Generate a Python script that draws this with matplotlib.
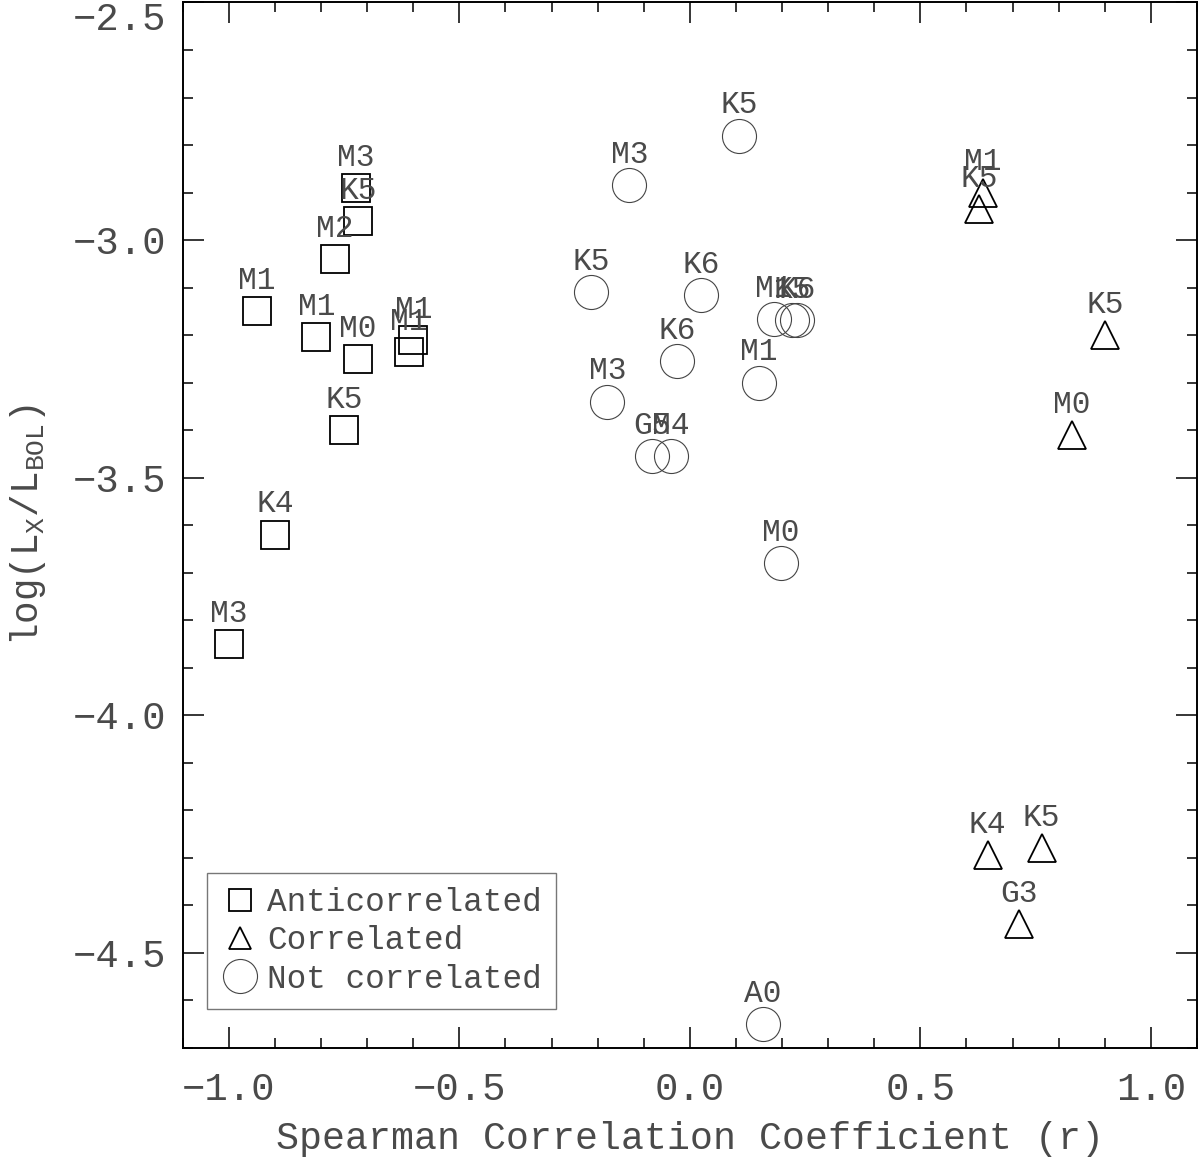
import matplotlib.pyplot as plt
from matplotlib.lines import Line2D
from matplotlib.ticker import MultipleLocator

plt.rcParams['font.family'] = ['Liberation Mono', 'DejaVu Sans']
plt.rcParams['mathtext.fontset'] = 'custom'
plt.rcParams['mathtext.rm'] = 'Liberation Mono'
plt.rcParams['mathtext.it'] = 'Liberation Mono'

txt = '#4a4a4a'

# anticorrelated stars (squares)
anti_r = [-1.00, -0.90, -0.94, -0.81, -0.77, -0.725, -0.72, -0.72, -0.75, -0.60, -0.61]
anti_lx = [-3.85, -3.62, -3.15, -3.205, -3.04, -2.89, -2.96, -3.25, -3.40, -3.21, -3.235]
anti_sp = ['M3', 'K4', 'M1', 'M1', 'M2', 'M3', 'K5', 'M0', 'K5', 'M1', 'M1']

# correlated stars (triangles)
corr_r = [0.636, 0.627, 0.90, 0.829, 0.646, 0.763, 0.714]
corr_lx = [-2.90, -2.935, -3.20, -3.41, -4.295, -4.28, -4.44]
corr_sp = ['M1', 'K5', 'K5', 'M0', 'K4', 'K5', 'G3']

# not correlated stars (circles)
nc_r = [0.107, -0.131, -0.214, 0.024, 0.183, 0.222, 0.232, -0.028, 0.150, -0.179, -0.082, -0.041, 0.198, 0.159]
nc_lx = [-2.78, -2.885, -3.11, -3.115, -3.166, -3.168, -3.168, -3.255, -3.30, -3.34, -3.455, -3.455, -3.68, -4.65]
nc_sp = ['K5', 'M3', 'K5', 'K6', 'M1', 'K5', 'K6', 'K6', 'M1', 'M3', 'G5', 'M4', 'M0', 'A0']

fig = plt.figure(figsize=(12, 11.7), dpi=100)
ax = fig.add_axes([0.1523, 0.1043, 0.8452, 0.8936])

ax.plot(anti_r, anti_lx, ls='none', marker='s', ms=20, mfc='none', mec='black', mew=1.3)
ax.plot(corr_r, corr_lx, ls='none', marker='^', ms=20, mfc='none', mec='black', mew=1.3)
ax.plot(nc_r, nc_lx, ls='none', marker='o', ms=24.5, mfc='none', mec='#444444', mew=0.8)

for xs, ys, names in [(anti_r, anti_lx, anti_sp), (corr_r, corr_lx, corr_sp), (nc_r, nc_lx, nc_sp)]:
    for x, y, s in zip(xs, ys, names):
        ax.annotate(s, (x, y), xytext=(0, 16), textcoords='offset points',
                    ha='center', va='baseline', fontsize=22.5, color=txt)

ax.set_xlim(-1.1, 1.1)
ax.set_ylim(-4.7, -2.5)
ax.xaxis.set_major_locator(MultipleLocator(0.5))
ax.xaxis.set_minor_locator(MultipleLocator(0.1))
ax.yaxis.set_major_locator(MultipleLocator(0.5))
ax.yaxis.set_minor_locator(MultipleLocator(0.1))
ax.tick_params(which='both', direction='in', top=True, right=True, width=1.1,
               labelsize=28, labelcolor=txt)
ax.tick_params(which='major', length=15)
ax.tick_params(which='minor', length=7.5)
ax.tick_params(axis='x', which='major', pad=17)
ax.tick_params(axis='y', which='major', pad=12)
for sp in ax.spines.values():
    sp.set_linewidth(1.4)

ax.set_xlabel('Spearman Correlation Coefficient (r)', fontsize=27.5, color=txt, labelpad=10)
ax.set_ylabel(r'$\mathrm{log(L_X/L_{BOL})}$', fontsize=27, color=txt, labelpad=18)

handles = [
    Line2D([], [], ls='none', marker='s', ms=16, mfc='none', mec='black', mew=1.3),
    Line2D([], [], ls='none', marker='^', ms=16, mfc='none', mec='black', mew=1.3),
    Line2D([], [], ls='none', marker='o', ms=24.5, mfc='none', mec='#444444', mew=0.8),
]
leg = ax.legend(handles, ['Anticorrelated', 'Correlated', 'Not correlated'],
                loc='lower left', bbox_to_anchor=(0.024, 0.037), borderaxespad=0,
                fontsize=23.5, frameon=True, fancybox=False, framealpha=1,
                edgecolor='#777777', handlelength=1.1, handletextpad=0.28,
                borderpad=0.45, labelspacing=0.22)
leg.get_frame().set_linewidth(1.0)
for t in leg.get_texts():
    t.set_color(txt)

fig.canvas.draw()
for tk in ax.yaxis.get_major_ticks():
    if abs(tk.get_loc() + 2.5) < 1e-6:
        tk.label1.set_va('top')

fig.savefig('out.png', dpi=100)
